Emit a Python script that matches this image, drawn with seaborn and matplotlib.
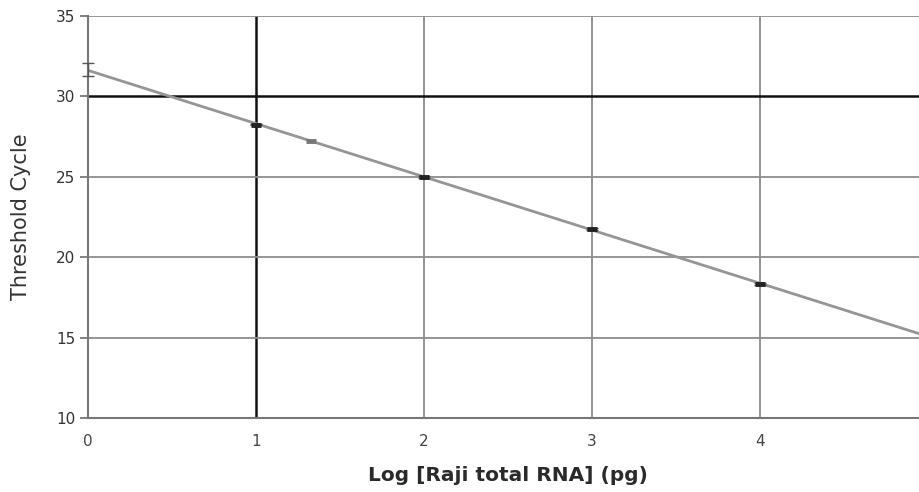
import numpy as np
import pandas as pd
import matplotlib
matplotlib.use("Agg")
from matplotlib import pyplot as plt
import seaborn as sns

# standard curve points
log_rna = [0, 1, 2, 3, 4]
ct_mean = [31.65, 28.25, 25.0, 21.75, 18.35]
ct_err = [0.4, 0.05, 0.05, 0.05, 0.05]
# stray point
extra_x = [1.33]
extra_y = [27.2]

x_ticks = [0, 1, 2, 3, 4, 5]
y_ticks = [10, 15, 20, 25, 30, 35]

df = pd.DataFrame({"log_rna": log_rna, "ct": ct_mean})

sns.set_style("white")
plt.rcParams['font.family'] = ['DejaVu Sans']

fig = plt.figure(figsize=(9.19, 4.92), dpi=100)
ax = fig.add_axes([0.0958, 0.1504, 0.914, 0.817])
ax.set_xlim(0, 5)
ax.set_ylim(10, 35)

# fitted line over the whole x range
sns.regplot(data=df, x="log_rna", y="ct", ax=ax, ci=None, truncate=False,
            scatter=False, line_kws=dict(color="#959595", lw=2.0, zorder=3))

ax.errorbar(log_rna, ct_mean, yerr=ct_err, fmt="none", ecolor="#555555",
            elinewidth=1, capsize=4, capthick=1, zorder=4, clip_on=False)
ax.scatter(log_rna[1:], ct_mean[1:], marker="_", s=60, linewidths=3.5,
           color="#222222", zorder=5)
ax.scatter(extra_x, extra_y, marker="_", s=50, linewidths=3.5, color="#777777", zorder=5)

ax.set_xlim(0, 5)
ax.set_ylim(10, 35)
ax.set_xticks(x_ticks)
ax.set_yticks(y_ticks)

ax.grid(True, color="#8c8c8c", lw=1.3)
ax.set_axisbelow(True)
ax.get_xgridlines()[1].set_color("#111111")
ax.get_xgridlines()[1].set_linewidth(1.8)
ax.get_ygridlines()[4].set_color("#111111")
ax.get_ygridlines()[4].set_linewidth(1.8)

for s in ["top", "right"]:
    ax.spines[s].set_visible(False)
ax.spines["left"].set_color("#777777")
ax.spines["left"].set_linewidth(1.5)
ax.spines["bottom"].set_color("#777777")
ax.spines["bottom"].set_linewidth(1.5)

ax.tick_params(axis="y", which="both", left=True, length=6, width=1.3,
               color="#777777", labelsize=11, labelcolor="#333333", pad=3)
ax.tick_params(axis="x", bottom=False, labelsize=11, labelcolor="#444444", pad=8)

ax.set_xlabel("Log [Raji total RNA] (pg)", fontsize=14.5, fontweight="bold",
              color="#2a2a2a", labelpad=12)
ax.set_ylabel("Threshold Cycle", fontsize=15, color="#333333", labelpad=18)

fig.savefig("out.png", dpi=100)
